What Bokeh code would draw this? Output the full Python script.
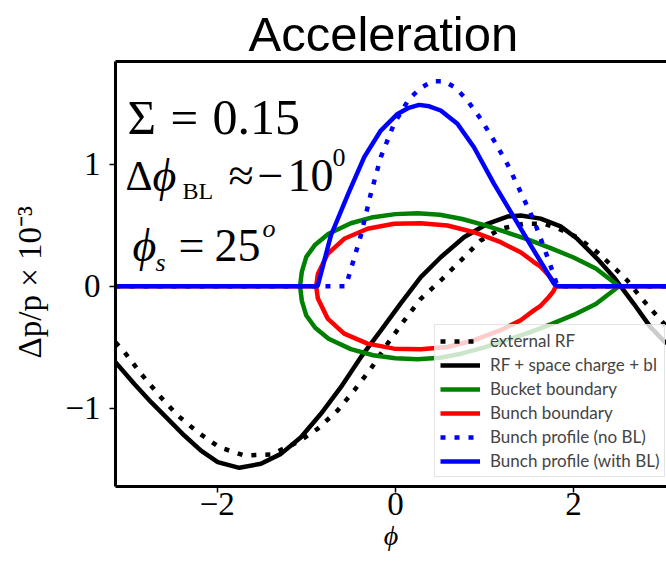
from bokeh.plotting import figure
from bokeh.models import Label, Legend, LegendItem, LinearAxis, FixedTicker, Range1d
from bokeh.embed import file_html
from bokeh.resources import INLINE

# ---------------- data ----------------
X_MIN, X_MAX = -3.1416, 3.043
Y_MIN, Y_MAX = -1.639, 1.839

# external RF (dotted black)
rf_phi = [-3.142, -3.04, -2.854, -2.65, -2.443, -2.219, -1.976, -1.696, -1.397, -1.098,
          -0.873, -0.649, -0.463, -0.276, -0.089, 0.10, 0.285, 0.509, 0.733, 0.957,
          1.182, 1.443, 1.667, 1.817, 2.041, 2.266, 2.49, 2.602, 2.751, 2.9, 3.043]
rf_dp = [-0.458, -0.54, -0.717, -0.894, -1.058, -1.195, -1.318, -1.385, -1.377, -1.277,
         -1.167, -1.017, -0.853, -0.676, -0.471, -0.28, -0.103, 0.047, 0.21, 0.374,
         0.47, 0.511, 0.511, 0.475, 0.401, 0.278, 0.128, 0.047, -0.09, -0.213, -0.33]

# RF + space charge + beam loading (solid black)
tot_phi = [-3.142, -2.93, -2.742, -2.555, -2.369, -2.182, -1.994, -1.752, -1.509, -1.285,
           -1.06, -0.836, -0.612, -0.388, -0.164, 0.06, 0.285, 0.509, 0.77, 1.033,
           1.257, 1.406, 1.63, 1.854, 2.041, 2.266, 2.452, 2.676, 2.863, 3.043]
tot_dp = [-0.622, -0.80, -0.949, -1.085, -1.222, -1.345, -1.44, -1.486, -1.453, -1.372,
          -1.236, -1.044, -0.826, -0.581, -0.363, -0.14, 0.074, 0.237, 0.401, 0.511,
          0.57, 0.579, 0.553, 0.49, 0.388, 0.224, 0.074, -0.144, -0.335, -0.47]

# bucket boundary, upper half (green); lower half is its mirror
bucket_phi = [-1.07, -1.05, -1.0, -0.9, -0.75, -0.5, -0.25, 0.0, 0.25, 0.5, 0.75,
              1.0, 1.25, 1.5, 1.75, 2.0, 2.25, 2.51]
bucket_dp = [0.0, 0.12, 0.24, 0.34, 0.43, 0.515, 0.565, 0.59, 0.597, 0.585, 0.55,
             0.50, 0.44, 0.38, 0.31, 0.235, 0.145, 0.0]

# bunch boundary, upper half (red); zero outside the bunch
bunch_phi = [-3.142, -0.89, -0.87, -0.76, -0.575, -0.313, -0.015, 0.285, 0.584, 0.882,
             1.182, 1.406, 1.55, 1.63, 1.72, 1.775, 1.80, 3.043]
bunch_dp = [0.0, 0.0, 0.10, 0.265, 0.388, 0.47, 0.511, 0.516, 0.497, 0.442,
            0.36, 0.278, 0.2, 0.16, 0.09, 0.04, 0.0, 0.0]

# bunch profile without beam loading (dotted blue)
prof_nobl_phi = [-3.142, -0.556, -0.388, -0.276, -0.164, -0.015, 0.154, 0.285, 0.416,
                 0.546, 0.677, 0.808, 0.957, 1.107, 1.257, 1.406, 1.555, 1.667, 1.761,
                 1.82, 3.043]
prof_nobl = [0.0, 0.0, 0.415, 0.756, 1.056, 1.329, 1.533, 1.623, 1.678,
             1.678, 1.623, 1.52, 1.37, 1.192, 1.0, 0.77, 0.538, 0.319, 0.128,
             0.0, 0.0]

# bunch profile with beam loading (solid blue)
prof_bl_phi = [-3.142, -0.873, -0.724, -0.53, -0.35, -0.164, 0.024, 0.15, 0.266, 0.38,
               0.509, 0.696, 0.882, 1.107, 1.33, 1.555, 1.78, 1.817, 3.043]
prof_bl = [0.0, 0.0, 0.415, 0.756, 1.056, 1.274, 1.41, 1.46, 1.484, 1.472,
           1.438, 1.329, 1.137, 0.838, 0.565, 0.292, 0.02, 0.0, 0.0]

x_ticks = [-2, 0, 2]
x_tick_labels = ["\u22122", "0", "2"]
y_ticks = [-1, 0, 1]
y_tick_labels = ["\u22121", "0", "1"]

legend_labels = ["external RF", "RF + space charge + bl", "Bucket boundary",
                 "Bunch boundary", "Bunch profile (no BL)", "Bunch profile (with BL)"]

# ---------------- figure ----------------
W, H = 666, 561
ML, MT, MB = 115, 61, 75
p = figure(width=W, height=H, output_backend="svg", toolbar_location=None,
           x_range=Range1d(X_MIN, X_MAX), y_range=Range1d(Y_MIN, Y_MAX),
           min_border_left=ML, min_border_right=0, min_border_top=MT, min_border_bottom=MB,
           tools="", title="Acceleration")
p.grid.visible = False
p.outline_line_color = None
p.background_fill_color = "white"
p.border_fill_color = "white"

p.title.text_font = "Liberation Sans"
p.title.text_font_size = "49px"
p.title.text_font_style = "normal"
p.title.align = "left"
p.title.offset = 133
p.title.standoff = 2
p.title.text_color = "black"

SERIF = "Liberation Serif"
PHI = "\u03d5"

for ax, ticks, labels in ((p.xaxis[0], x_ticks, x_tick_labels), (p.yaxis[0], y_ticks, y_tick_labels)):
    ax.ticker = FixedTicker(ticks=ticks)
    ax.major_label_overrides = {t: l for t, l in zip(ticks, labels)}
    ax.axis_line_width = 3
    ax.axis_line_color = "black"
    ax.major_tick_out = 6
    ax.major_tick_in = 0
    ax.major_tick_line_width = 1.5
    ax.minor_tick_line_color = None
    ax.major_label_text_font = SERIF
    ax.major_label_text_font_size = "33px"
    ax.major_label_text_color = "black"

p.xaxis[0].major_label_standoff = 0
p.xaxis[0].axis_label = PHI
p.xaxis[0].axis_label_text_font = SERIF
p.xaxis[0].axis_label_text_font_style = "italic"
p.xaxis[0].axis_label_text_font_size = "28px"
p.xaxis[0].axis_label_standoff = 2
p.xaxis[0].axis_label_text_color = "black"

p.yaxis[0].major_label_standoff = 9
p.yaxis[0].axis_label = "\u0394p/p  \u00d7  10\u207b\u00b3"
p.yaxis[0].axis_label_text_font = SERIF
p.yaxis[0].axis_label_text_font_style = "normal"
p.yaxis[0].axis_label_text_font_size = "33px"
p.yaxis[0].axis_label_standoff = 14
p.yaxis[0].axis_label_text_color = "black"

top_axis = LinearAxis(ticker=FixedTicker(ticks=[]), axis_line_width=3,
                      major_tick_out=0, major_tick_in=0, major_label_standoff=0,
                      major_tick_line_color=None, minor_tick_line_color=None,
                      major_label_text_font_size="0px")
p.add_layout(top_axis, "above")

LW = 4.5
r_rf = p.line(rf_phi, rf_dp, line_color="black", line_width=LW, line_dash="5 9")
r_tot = p.line(tot_phi, tot_dp, line_color="black", line_width=LW)

bx = bucket_phi + bucket_phi[::-1]
by = bucket_dp + [-v for v in bucket_dp[::-1]]
r_bucket = p.line(bx, by, line_color="#008000", line_width=LW)

rx = bunch_phi + bunch_phi[::-1]
ry = bunch_dp + [-v for v in bunch_dp[::-1]]
r_bunch = p.line(rx, ry, line_color="#ff0000", line_width=LW)

r_nobl = p.line(prof_nobl_phi, prof_nobl, line_color="#0000ff", line_width=LW, line_dash="5 9")
r_bl = p.line(prof_bl_phi, prof_bl, line_color="#0000ff", line_width=LW)

# ---------------- texts inside the frame ----------------
FL, FT = ML, MT
FW = W - ML
FH = H - MT - MB

def X(px):
    return X_MIN + (px - FL) * (X_MAX - X_MIN) / FW

def Y(py):
    return Y_MAX - (py - FT) * (Y_MAX - Y_MIN) / FH

def lab(px, py, text, size, style="normal", align="left"):
    p.add_layout(Label(x=X(px), y=Y(py), text=text, text_font=SERIF, text_font_style=style,
                       text_font_size=f"{size}px", text_align=align,
                       text_baseline="alphabetic", text_color="black"))

lab(127, 117, "\u03a3", 49)
lab(170, 117, "=", 49)
lab(212, 117, "0.15", 50)
lab(125, 175, "\u0394", 42)
lab(152, 175, PHI, 46, style="italic")
lab(182, 190, "BL", 24)
lab(228, 175, "\u2248", 46)
lab(257, 175, "\u2212", 46)
lab(287, 175, "10", 46)
lab(332, 157, "0", 26)
lab(132, 245, PHI, 46, style="italic")
lab(155, 262, "s", 26, style="italic")
lab(178, 245, "=", 46)
lab(214, 245, "25", 46)
lab(262, 228, "o", 26, style="italic")

# ---------------- legend ----------------
items = [LegendItem(label=l, renderers=[r]) for l, r in
         zip(legend_labels, [r_rf, r_tot, r_bucket, r_bunch, r_nobl, r_bl])]
legend = Legend(items=items, location=(434 - FL, (FT + FH) - 477),
                label_text_font="Lato", label_text_font_size="17px",
                glyph_width=40, glyph_height=20, label_height=20, spacing=3,
                padding=5, margin=0, label_standoff=10,
                border_line_color="#cccccc", border_line_width=1,
                background_fill_color="white", background_fill_alpha=0.8)
p.add_layout(legend)

open("out.html", "w").write(file_html(p, INLINE))
